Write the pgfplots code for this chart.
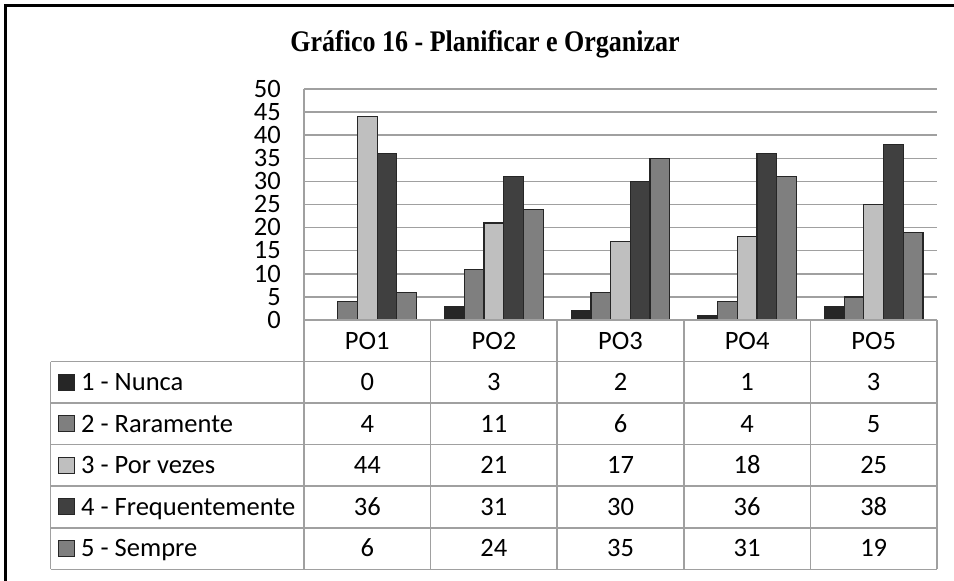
\documentclass[border=0pt]{standalone}
\usepackage{fontspec}
\setmainfont{Carlito}
\newfontfamily\titlefont{Liberation Serif}
\usepackage{graphicx}
\usepackage{pgfplots}
\pgfplotsset{compat=1.18}
\definecolor{c1}{HTML}{262626}
\definecolor{c2}{HTML}{7F7F7F}
\definecolor{c3}{HTML}{BFBFBF}
\definecolor{c4}{HTML}{404040}
\definecolor{c5}{HTML}{7F7F7F}
\definecolor{gridgray}{HTML}{A0A0A0}
\definecolor{edge}{HTML}{262626}

\begin{document}
\fontsize{26.5}{31}\selectfont
\begin{tikzpicture}[x=1pt,y=1pt]
\useasboundingbox (-304,-261) rectangle (650,320);
\begin{axis}[
    at={(0,0)}, anchor=south west,
    scale only axis,
    width=633pt, height=231pt,
    xmin=-0.5, xmax=4.5, ymin=0, ymax=50,
    ybar=0pt, bar width=19.7pt,
    xtick={0,1,2,3,4},
    xticklabels={PO1,PO2,PO3,PO4,PO5},
    ytick={0,5,...,50},
    major tick length=0pt,
    ymajorgrids,
    grid style={draw=gridgray, line width=1.5pt},
    axis line style={draw=none},
    /pgf/number format/assume math mode=true,
    tick label style={font=\fontsize{26.5}{31}\selectfont, inner sep=0pt,
        text height=16.4pt, text depth=0pt},
    yticklabel style={anchor=east, xshift=-23pt},
    xticklabel style={anchor=center, yshift=-20.8pt},
    every axis plot/.append style={draw=edge, line width=1.2pt},
]
\addplot[fill=c1] coordinates {(0,0) (1,3) (2,2) (3,1) (4,3)};
\addplot[fill=c2] coordinates {(0,4) (1,11) (2,6) (3,4) (4,5)};
\addplot[fill=c3] coordinates {(0,44) (1,21) (2,17) (3,18) (4,25)};
\addplot[fill=c4] coordinates {(0,36) (1,31) (2,30) (3,36) (4,38)};
\addplot[fill=c5] coordinates {(0,6) (1,24) (2,35) (3,31) (4,19)};
\end{axis}

% data table under the axis
\begin{scope}[gridgray, line width=1.5pt]
\draw (0,231) -- (0,-249.3);
\draw (0,0) -- (633,0);
\foreach \k in {1,...,6} \draw (-253.3,-41.55*\k) -- (633,-41.55*\k);
\draw (-253.3,-41.55) -- (-253.3,-249.3);
\foreach \k in {1,...,5} \draw (126.6*\k,0) -- (126.6*\k,-249.3);
\end{scope}

\begin{scope}[every node/.style={inner sep=0pt, text height=16.4pt, text depth=0pt}]
\foreach \lab/\col [count=\r] in {1 - Nunca/c1, 2 - Raramente/c2, 3 - Por vezes/c3,
        4 - Frequentemente/c4, 5 - Sempre/c5} {
    \pgfmathsetmacro{\yy}{-41.55*(\r+0.5)}
    \filldraw[fill=\col, draw=edge, line width=1pt] (-245,\yy-8) rectangle (-229,\yy+8);
    \node[anchor=west] at (-223,\yy) {\lab};
}
\foreach \vals [count=\r] in {{0,3,2,1,3},{4,11,6,4,5},{44,21,17,18,25},
        {36,31,30,36,38},{6,24,35,31,19}} {
    \pgfmathsetmacro{\yy}{-41.55*(\r+0.5)}
    \foreach \v [count=\c] in \vals
        \node at (126.6*\c-63.3,\yy) {\v};
}
\end{scope}

\node[inner sep=0pt, anchor=base] at (181,268.3)
    {\scalebox{1}[1.15]{\titlefont\bfseries\fontsize{26}{30}\selectfont Gráfico 16 - Planificar e Organizar}};

\draw[black, line width=3pt, line join=miter] (-298.5,-261) -- (-298.5,314.7) -- (650,314.7);
\end{tikzpicture}
\end{document}
